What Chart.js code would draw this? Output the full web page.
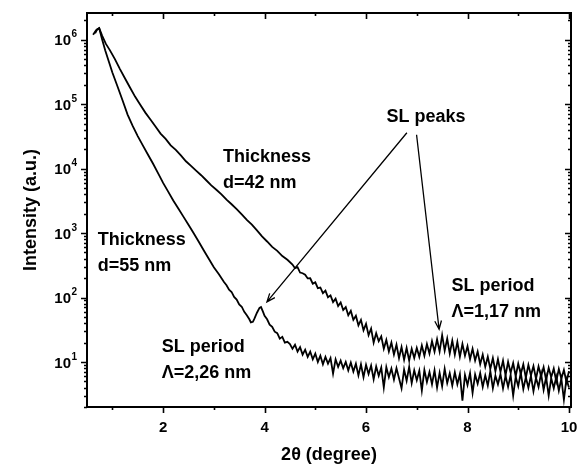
<!DOCTYPE html>
<html>
<head>
<meta charset="utf-8">
<title>XRR curves</title>
<script src="https://cdn.jsdelivr.net/npm/chart.js@4.4.1/dist/chart.umd.min.js"></script>
<style>
  html, body { margin: 0; padding: 0; background: #fff; }
</style>
</head>
<body>
<canvas id="xrrChart" width="579" height="468"></canvas>
<script>
// sample with d = 42 nm (upper curve at high angle, SL period 1,17 nm)
var angleA = [
    0.62, 0.68, 0.74, 0.80, 0.87, 0.95, 1.05, 1.15, 1.25, 1.35,
    1.45, 1.55, 1.65, 1.75, 1.85, 1.95, 2.05, 2.15, 2.25, 2.35,
    2.45, 2.55, 2.65, 2.75, 2.85, 2.95, 3.05, 3.15, 3.25, 3.35,
    3.45, 3.55, 3.65, 3.75, 3.85, 3.95, 4.05, 4.15, 4.25, 4.35,
    4.45, 4.55,
    4.60, 4.65, 4.70, 4.75, 4.80, 4.85, 4.90, 4.95, 5.00, 5.05,
    5.10, 5.15, 5.20, 5.25, 5.30, 5.35, 5.40, 5.45, 5.50, 5.55,
    5.60, 5.65, 5.70, 5.75, 5.80, 5.85, 5.90, 5.95, 6.00, 6.05,
    6.10, 6.15, 6.20, 6.25, 6.30, 6.35, 6.40, 6.45, 6.50, 6.55,
    6.60, 6.65, 6.70, 6.75, 6.80, 6.85, 6.90, 6.95, 7.00, 7.05,
    7.10, 7.15, 7.20, 7.25, 7.30, 7.35, 7.40, 7.45, 7.50, 7.55,
    7.60, 7.65, 7.70, 7.75, 7.80, 7.85, 7.90, 7.95, 8.00, 8.05,
    8.10, 8.15, 8.20, 8.25, 8.30, 8.35, 8.40, 8.45, 8.50, 8.55,
    8.60, 8.65, 8.70, 8.75, 8.80, 8.85, 8.90, 8.95, 9.00, 9.05,
    9.10, 9.15, 9.20, 9.25, 9.30, 9.35, 9.40, 9.45, 9.50, 9.55,
    9.60, 9.65, 9.70, 9.75, 9.80, 9.85, 9.90, 9.95, 10.00
];
var intensityA = [
    1.2e6, 1.41e6, 1.51e6, 1.15e6, 8.7e5, 6.9e5, 5.0e5, 3.5e5, 2.5e5, 1.8e5,
    1.3e5, 9.8e4, 7.4e4, 5.8e4, 4.5e4, 3.5e4, 2.9e4, 2.3e4, 1.95e4, 1.6e4,
    1.3e4, 1.1e4, 9300, 7900, 6600, 5500, 4700, 4000, 3300, 2800,
    2350, 1950, 1600, 1350, 1100, 890, 740, 610, 530, 440,
    385, 325,
    285, 296, 244, 238, 226, 198, 199, 164, 172, 140,
    143, 117, 128, 101, 108, 85, 96, 74, 84, 64,
    71, 53, 62, 45, 52, 37, 45, 31, 39, 26,
    33, 20, 28, 21, 25, 16, 22, 14.5, 20, 13,
    18.5, 11.5, 17, 10.8, 16.5, 10.5, 16, 11.5, 16.5, 12,
    18, 12.5, 19, 13.5, 21, 14.5, 22.5, 14.5, 26, 15,
    23, 13.5, 21.5, 13, 20.5, 12, 19, 12.5, 17.5, 11,
    16, 10.5, 14.5, 9.2, 13, 8.4, 12, 7.8, 11.5, 7.2,
    11, 7.0, 10.5, 6.2, 10, 6.8, 9.6, 6.0, 9.4, 6.5,
    9.2, 5.7, 9.0, 6.2, 8.6, 5.5, 8.5, 6.0, 8.3, 5.2,
    8.1, 5.8, 7.9, 5.0, 7.8, 5.5, 7.5, 4.9, 7.2
];

// sample with d = 55 nm (steeper curve, SL peak near 3.9 deg)
var angleB = [
    0.66, 0.70, 0.74, 0.80, 0.86, 0.93, 1.00, 1.10, 1.20, 1.30,
    1.40, 1.50, 1.60, 1.70, 1.80, 1.90, 2.00, 2.10, 2.20, 2.30,
    2.40, 2.50, 2.60, 2.70, 2.80, 2.90, 3.00, 3.10, 3.20, 3.25,
    3.30, 3.35, 3.40, 3.45, 3.50, 3.55, 3.60, 3.65, 3.70, 3.73,
    3.77, 3.80, 3.85, 3.90, 3.93, 3.97, 4.00, 4.05, 4.10, 4.15,
    4.20,
    4.25, 4.30, 4.35, 4.40, 4.45, 4.50, 4.55, 4.60, 4.65, 4.70,
    4.75, 4.80, 4.85, 4.90, 4.95, 5.00, 5.05, 5.10, 5.15, 5.20,
    5.25, 5.30, 5.35, 5.40, 5.45, 5.50, 5.55, 5.60, 5.65, 5.70,
    5.75, 5.80, 5.85, 5.90, 5.95, 6.00, 6.05, 6.10, 6.15, 6.20,
    6.25, 6.30, 6.35, 6.40, 6.45, 6.50, 6.55, 6.60, 6.65, 6.70,
    6.75, 6.80, 6.85, 6.90, 6.95, 7.00, 7.05, 7.10, 7.15, 7.20,
    7.25, 7.30, 7.35, 7.40, 7.45, 7.50, 7.55, 7.60, 7.65, 7.70,
    7.75, 7.80, 7.85, 7.90, 7.95, 8.00, 8.05, 8.10, 8.15, 8.20,
    8.25, 8.30, 8.35, 8.40, 8.45, 8.50, 8.55, 8.60, 8.65, 8.70,
    8.75, 8.80, 8.85, 8.90, 8.95, 9.00, 9.05, 9.10, 9.15, 9.20,
    9.25, 9.30, 9.35, 9.40, 9.45, 9.50, 9.55, 9.60, 9.65, 9.70,
    9.75, 9.80, 9.85, 9.90, 9.95, 10.00
];
var intensityB = [
    1.26e6, 1.45e6, 1.51e6, 1.0e6, 6.8e5, 4.6e5, 3.1e5, 1.9e5, 1.15e5, 6.9e4,
    4.6e4, 3.2e4, 2.3e4, 1.66e4, 1.2e4, 8500, 6000, 4400, 3200, 2400,
    1800, 1350, 1000, 740, 540, 400, 295, 230, 174, 155,
    132, 122, 102, 93, 78, 72, 60, 53, 46, 41,
    42, 47, 58, 69, 71, 60, 52, 46, 38, 35,
    29.5,
    28, 23, 24.5, 20, 20.5, 19, 16, 18.5, 14.5, 17,
    13, 15.5, 12, 14.5, 11, 13.5, 10, 12.5, 9.2, 12,
    9.4, 11.5, 6.6, 11, 8.4, 10.5, 8.0, 10, 7.4, 9.8,
    7.1, 9.4, 6.2, 9.2, 5.8, 9.0, 6.5, 8.8, 5.4, 8.5,
    6.1, 8.2, 4.0, 8.3, 5.8, 7.9, 5.3, 8.0, 5.6, 3.9,
    7.6, 5.1, 8.4, 4.7, 7.4, 5.2, 7.3, 3.6, 7.5, 4.9,
    7.0, 4.5, 7.4, 4.0, 6.8, 4.2, 7.8, 4.7, 6.7, 4.3,
    6.9, 4.5, 6.5, 2.5, 6.3, 4.4, 6.7, 3.3, 6.4, 4.6,
    6.7, 4.1, 6.2, 4.3, 7.2, 3.9, 6.1, 4.5, 6.5, 3.9,
    6.1, 4.1, 6.3, 3.0, 5.9, 4.2, 6.8, 3.8, 5.8, 4.0,
    6.1, 3.5, 5.7, 4.1, 6.6, 3.7, 5.8, 3.0, 5.6, 3.9,
    5.9, 3.6, 5.5, 2.6, 5.4, 4.0
];

var xTickValues = [1, 2, 3, 4, 5, 6, 7, 8, 9, 10];
var decades = [0, 1, 2, 3, 4, 5, 6];

// text annotations, anchored on data coordinates (first baseline)
var noteLines = [['Thickness', 'd=42 nm'], ['Thickness', 'd=55 nm'], ['SL peaks'],
                 ['SL period', '\u039B=2,26 nm'], ['SL period', '\u039B=1,17 nm']];
var noteAngle = [3.18, 0.711, 6.405, 1.972, 7.686];
var noteIntensity = [1.27e4, 656, 5.3e4, 14.1, 126];

// arrows from "SL peaks" to both superlattice peaks
var arrowFromAngle = [6.805, 6.996];
var arrowFromIntensity = [3.6e4, 3.35e4];
var arrowToAngle = [4.047, 7.44];
var arrowToIntensity = [85.5, 32.2];

var FONT = "'Liberation Sans', Arial, Helvetica, sans-serif";

function isDecade(v) {
    var l = Math.log10(v);
    return Math.abs(l - Math.round(l)) < 1e-9;
}

var plotDecor = {
    id: 'plotDecor',
    afterDraw: function(chart) {
        var ctx = chart.ctx, a = chart.chartArea;
        var xs = chart.scales.x, ys = chart.scales.y;
        ctx.save();
        ctx.strokeStyle = '#000';
        ctx.fillStyle = '#000';

        // tick marks: out on bottom/left, in on top/right
        ctx.lineWidth = 1.6;
        ctx.beginPath();
        xs.ticks.forEach(function(t) {
            var px = Math.round(xs.getPixelForValue(t.value)) + 0.5;
            var len = t.value % 2 === 0 ? 6 : 3;
            ctx.moveTo(px, a.bottom); ctx.lineTo(px, a.bottom + len);
            ctx.moveTo(px, a.top); ctx.lineTo(px, a.top + len);
        });
        ys.ticks.forEach(function(t) {
            var py = Math.round(ys.getPixelForValue(t.value)) + 0.5;
            var len = isDecade(t.value) ? 6 : 3;
            ctx.moveTo(a.left - len, py); ctx.lineTo(a.left, py);
            ctx.moveTo(a.right - len, py); ctx.lineTo(a.right, py);
        });
        ctx.stroke();

        // frame
        ctx.lineWidth = 2;
        ctx.strokeRect(a.left, a.top, a.right - a.left, a.bottom - a.top);

        // decade labels 10^n
        ctx.textBaseline = 'middle';
        ctx.textAlign = 'left';
        ys.ticks.forEach(function(t) {
            if (!isDecade(t.value)) return;
            var e = Math.round(Math.log10(t.value));
            if (e < 1) return;
            var py = ys.getPixelForValue(t.value);
            var wSup = 7;
            ctx.font = 'bold 15px ' + FONT;
            var wBase = ctx.measureText('10').width;
            var right = a.left - 9;
            ctx.fillText('10', right - wSup - wBase, py + 1.5);
            ctx.font = 'bold 10px ' + FONT;
            ctx.fillText(String(e), right - wSup + 0.5, py - 5);
        });
        ctx.restore();
    },
    afterDatasetsDraw: function(chart) {
        var ctx = chart.ctx;
        var xs = chart.scales.x, ys = chart.scales.y;
        ctx.save();
        ctx.fillStyle = '#000';
        ctx.strokeStyle = '#000';
        ctx.font = 'bold 18px ' + FONT;
        ctx.textAlign = 'left';
        ctx.textBaseline = 'alphabetic';
        noteLines.forEach(function(lines, i) {
            var px = xs.getPixelForValue(noteAngle[i]);
            var py = ys.getPixelForValue(noteIntensity[i]);
            lines.forEach(function(s, k) {
                ctx.fillText(s, px, py + k * 26);
            });
        });

        ctx.lineWidth = 1.3;
        for (var i = 0; i < arrowFromAngle.length; i++) {
            var x0 = xs.getPixelForValue(arrowFromAngle[i]);
            var y0 = ys.getPixelForValue(arrowFromIntensity[i]);
            var x1 = xs.getPixelForValue(arrowToAngle[i]);
            var y1 = ys.getPixelForValue(arrowToIntensity[i]);
            var ang = Math.atan2(y1 - y0, x1 - x0);
            ctx.beginPath();
            ctx.moveTo(x0, y0);
            ctx.lineTo(x1, y1);
            ctx.moveTo(x1 - 9 * Math.cos(ang - 0.38), y1 - 9 * Math.sin(ang - 0.38));
            ctx.lineTo(x1, y1);
            ctx.lineTo(x1 - 9 * Math.cos(ang + 0.38), y1 - 9 * Math.sin(ang + 0.38));
            ctx.stroke();
        }
        ctx.restore();
    }
};

window.onload = function() {
    Chart.defaults.font.family = FONT;
    Chart.defaults.color = '#000';

    var ctx = document.getElementById('xrrChart').getContext('2d');
    var chart = new Chart(ctx, {
        type: 'line',
        data: {
            datasets: [{
                label: 'd=42 nm',
                data: angleA.map(function(a, i) { return {x: a, y: intensityA[i]}; }),
                borderColor: '#000',
                borderWidth: 1.8,
                pointRadius: 0,
                tension: 0,
                fill: false
            }, {
                label: 'd=55 nm',
                data: angleB.map(function(a, i) { return {x: a, y: intensityB[i]}; }),
                borderColor: '#000',
                borderWidth: 1.8,
                pointRadius: 0,
                tension: 0,
                fill: false
            }]
        },
        options: {
            responsive: false,
            animation: false,
            layout: { padding: { left: 0, right: 8, top: 13, bottom: 0 } },
            plugins: {
                legend: { display: false },
                tooltip: { enabled: false }
            },
            scales: {
                x: {
                    type: 'linear',
                    min: 0.5,
                    max: 10.04,
                    afterBuildTicks: function(scale) {
                        scale.ticks = xTickValues.map(function(v) { return {value: v}; });
                    },
                    afterFit: function(scale) {
                        scale.height = 61;
                        scale.paddingLeft = 0;
                        scale.paddingRight = 0;
                    },
                    grid: { display: false, drawTicks: false },
                    border: { display: false },
                    ticks: {
                        autoSkip: false,
                        maxRotation: 0,
                        padding: 12,
                        color: '#000',
                        font: { size: 15, weight: 'bold' },
                        callback: function(v) { return v % 2 === 0 ? String(v) : ''; }
                    },
                    title: {
                        display: true,
                        text: '2\u03B8 (degree)',
                        color: '#000',
                        font: { size: 18, weight: 'bold', lineHeight: 1.2 },
                        padding: { top: 0, bottom: 2 }
                    }
                },
                y: {
                    type: 'logarithmic',
                    min: 2,
                    max: 2.6e6,
                    afterBuildTicks: function(scale) {
                        var list = [];
                        decades.forEach(function(e) {
                            for (var m = 1; m <= 9; m++) {
                                var v = m * Math.pow(10, e);
                                if (v >= scale.min && v <= scale.max) list.push({value: v});
                            }
                        });
                        scale.ticks = list;
                    },
                    afterFit: function(scale) {
                        scale.width = 87;
                        scale.paddingTop = 0;
                        scale.paddingBottom = 0;
                    },
                    grid: { display: false, drawTicks: false },
                    border: { display: false },
                    ticks: { display: false },
                    title: {
                        display: true,
                        text: 'Intensity (a.u.)',
                        color: '#000',
                        font: { size: 18, weight: 'bold', lineHeight: 1.2 },
                        padding: { top: 20, bottom: 0 }
                    }
                }
            }
        },
        plugins: [plotDecor]
    });
};
</script>
</body>
</html>
